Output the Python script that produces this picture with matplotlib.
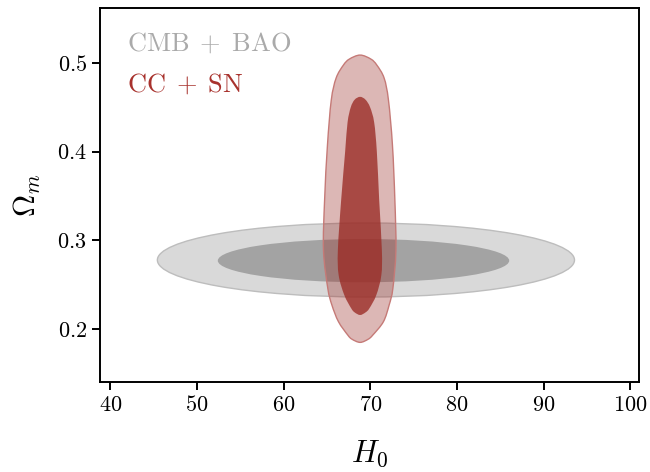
import matplotlib
matplotlib.use("Agg")
import matplotlib.pyplot as plt
from matplotlib.patches import Ellipse, PathPatch
from matplotlib.path import Path

plt.rcParams["font.family"] = "serif"
plt.rcParams["font.serif"] = ["cmr10"]
plt.rcParams["mathtext.fontset"] = "cm"
plt.rcParams["axes.formatter.use_mathtext"] = True

# CMB + BAO contours (ellipses): center H0, center Om, width, height
cmb_center = (69.5, 0.2780)
cmb_outer_size = (48.15, 0.0833)
cmb_inner_center = (69.22, 0.2773)
cmb_inner_size = (33.64, 0.0487)

# CC + SN contours: boundary (Om, left H0, right H0)
cc_outer_om = [0.5087, 0.5042, 0.4974, 0.4828, 0.4580, 0.4074, 0.3455,
               0.2892, 0.2461, 0.2274, 0.2086, 0.1936, 0.1888, 0.1853]
cc_outer_left = [68.83, 67.59, 66.90, 66.06, 65.50, 65.06, 64.73,
                 64.60, 65.10, 65.57, 66.33, 67.40, 67.90, 68.83]
cc_outer_right = [68.83, 70.07, 70.76, 71.60, 72.10, 72.56, 72.84,
                  72.96, 72.61, 72.18, 71.52, 70.30, 69.75, 68.83]

cc_inner_om = [0.4617, 0.4585, 0.4500, 0.4330, 0.3999, 0.3455,
               0.2892, 0.2611, 0.2386, 0.2236, 0.2190, 0.2161]
cc_inner_left = [68.83, 68.20, 67.75, 67.38, 67.10, 66.64,
                 66.26, 66.35, 67.00, 67.80, 68.20, 68.83]
cc_inner_right = [68.83, 69.45, 69.98, 70.45, 70.76, 71.03,
                  71.34, 71.28, 70.70, 69.90, 69.45, 68.83]

x_ticks = [40, 50, 60, 70, 80, 90, 100]
y_ticks = [0.2, 0.3, 0.4, 0.5]

red = (155 / 255, 44 / 255, 38 / 255)


def smooth_loop(om, left, right):
    # closed Catmull-Rom outline through the boundary points
    pts = list(zip(left, om)) + list(zip(right[-2:0:-1], om[-2:0:-1]))
    n = len(pts)
    verts = [pts[0]]
    codes = [Path.MOVETO]
    for i in range(n):
        p0, p1 = pts[i - 1], pts[i]
        p2, p3 = pts[(i + 1) % n], pts[(i + 2) % n]
        c1 = (p1[0] + (p2[0] - p0[0]) / 6, p1[1] + (p2[1] - p0[1]) / 6)
        c2 = (p2[0] - (p3[0] - p1[0]) / 6, p2[1] - (p3[1] - p1[1]) / 6)
        verts += [c1, c2, p2]
        codes += [Path.CURVE4] * 3
    return Path(verts, codes)


fig = plt.figure(figsize=(6.5, 4.72), dpi=100)
ax = fig.add_axes([0.1538, 0.1907, 0.829, 0.792])

# Gray contours
ax.add_patch(Ellipse(cmb_center, *cmb_outer_size, facecolor="#d9d9d9",
                     edgecolor="#bdbdbd", linewidth=1.0, zorder=1))
ax.add_patch(Ellipse(cmb_inner_center, *cmb_inner_size, facecolor="#a3a3a3",
                     edgecolor="none", zorder=2))

# Red contours
ax.add_patch(PathPatch(smooth_loop(cc_outer_om, cc_outer_left, cc_outer_right),
                       facecolor=(*red, 0.34), edgecolor="#c57a77",
                       linewidth=1.0, zorder=3))
ax.add_patch(PathPatch(smooth_loop(cc_inner_om, cc_inner_left, cc_inner_right),
                       facecolor=(*red, 0.79), edgecolor="none", zorder=5))

ax.text(0.05, 0.906, r"$\mathrm{CMB}\;+\;\mathrm{BAO}$", transform=ax.transAxes,
        color="#aaaaaa", fontsize=19, va="center", ha="left")
ax.text(0.05, 0.797, r"$\mathrm{CC}\;+\;\mathrm{SN}$", transform=ax.transAxes,
        color="#a8322d", fontsize=19, va="center", ha="left")

ax.set_xlim(38.8, 101.0)
ax.set_ylim(0.1407, 0.5615)
ax.set_xticks(x_ticks)
ax.set_yticks(y_ticks)
ax.tick_params(labelsize=16, width=1.4, length=6)
for s in ax.spines.values():
    s.set_linewidth(1.4)

ax.set_xlabel(r"$H_0$", fontsize=22, labelpad=17)
ax.set_ylabel(r"$\Omega_m$", fontsize=22, labelpad=10)

fig.savefig("out.png", dpi=100)
